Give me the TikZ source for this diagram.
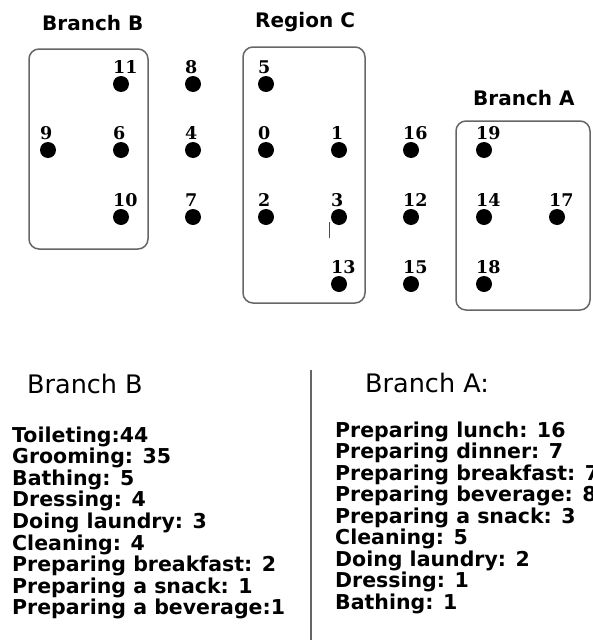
\documentclass[tikz,border=0pt]{standalone}
\usepackage{fontspec}
\setmainfont{DejaVu Sans}
\newfontfamily\numfont{DejaVu Serif}

\tikzset{
  spot/.style={circle, fill=black, inner sep=0pt, minimum size=16pt},
  num/.style={anchor=south west, inner sep=0pt, xshift=-8pt, yshift=2pt,
    font=\numfont\bfseries\fontsize{17.5}{17.5}\selectfont},
  region/.style={draw=black!60, line width=1.5pt, rounded corners=10pt},
  title/.style={anchor=base west, inner sep=0pt, font=\bfseries\fontsize{20}{20}\selectfont},
  head/.style={anchor=base west, inner sep=0pt, font=\fontsize{25.5}{25.5}\selectfont},
  item/.style={anchor=base west, inner sep=0pt, font=\bfseries\fontsize{20.5}{21}\selectfont},
}

\begin{document}
\begin{tikzpicture}[x=1pt, y=-1pt]
    \useasboundingbox (0,0) rectangle (592,640);
    \clip (0,0) rectangle (592,640);

    % the three areas
    \draw[region] (29,49) rectangle (148,249);
    \draw[region] (243,47) rectangle (365,303);
    \draw[region] (456,121) rectangle (590,310);
    \node[title] (tB) at (42,30) {Branch B};
    \node[title] (tC) at (255,27) {Region C};
    \node[title] (tA) at (473,105) {Branch A};

    % sensor spots
    \foreach \n/\x/\y in {11/121/84, 9/48/150, 6/121/150, 10/121/217,
                          8/193/84, 4/193/150, 7/193/217,
                          5/266/84, 0/266/150, 2/266/217,
                          1/339/150, 3/339/217, 13/339/284,
                          16/411/150, 12/411/217, 15/411/284,
                          19/484/150, 14/484/217, 18/484/284, 17/557/217}
        \node[spot, label={[num]90:\n}] (d\n) at (\x,\y) {};
    \draw[black!70, line width=0.8pt] (329,222) -- (329,238);

    % activity counts
    \draw[black!60, line width=2pt] (311,370) -- (311,640);
    \node[head] (hB) at (27,393) {Branch B};
    \node[head] (hA) at (365,392) {Branch A:};
    \foreach \t [count=\i from 0] in {Toileting:44, Grooming: 35, Bathing: 5,
        Dressing: 4, Doing laundry: 3, Cleaning: 4, Preparing breakfast: 2,
        Preparing a snack: 1, Preparing a beverage:1}
        \node[item] (b\i) at (12,442+21.6*\i) {\t};
    \foreach \t [count=\i from 0] in {Preparing lunch: 16, Preparing dinner: 7,
        Preparing breakfast: 7, Preparing beverage: 8, Preparing a snack: 3,
        Cleaning: 5, Doing laundry: 2, Dressing: 1, Bathing: 1}
        \node[item] (a\i) at (335,437+21.5*\i) {\t};
\end{tikzpicture}
\end{document}
